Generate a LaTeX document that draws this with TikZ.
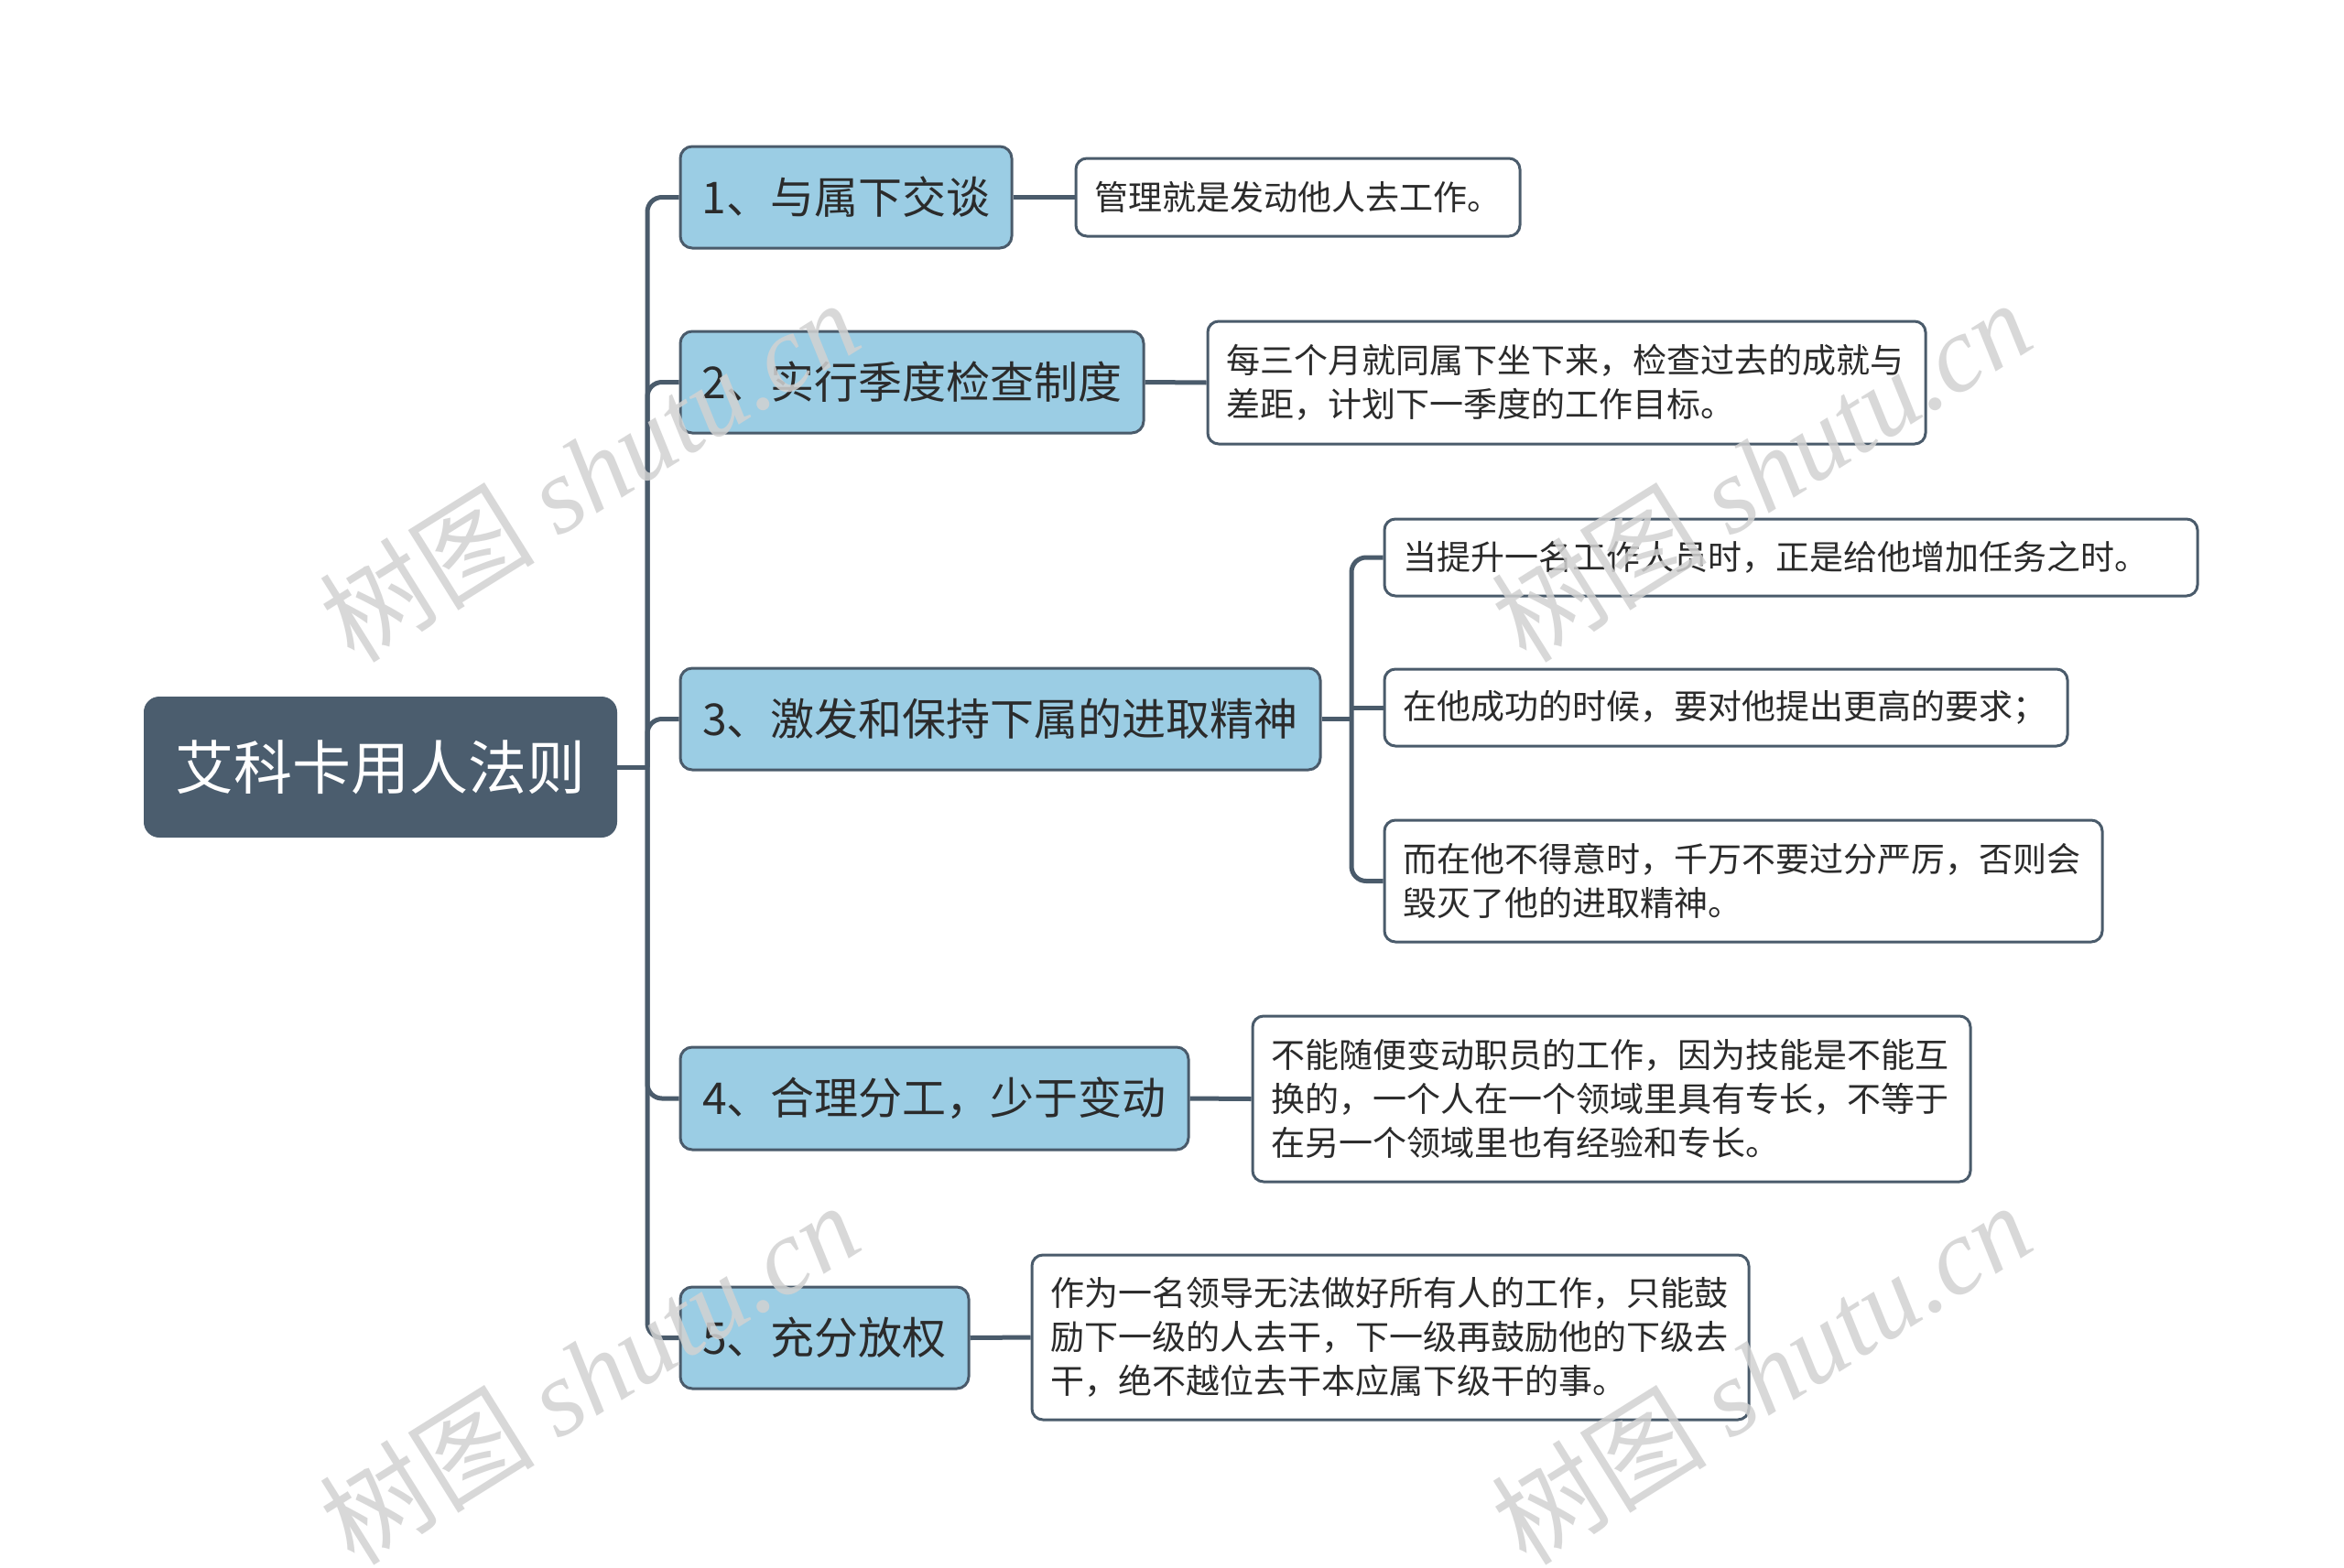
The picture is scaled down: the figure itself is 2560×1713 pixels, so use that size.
\documentclass[tikz,border=0pt]{standalone}
\usepackage{fontspec}
\setmainfont{Noto Sans CJK SC}
\newfontfamily\cjk{Noto Sans CJK SC}
\newfontfamily\wmserif{Liberation Serif}
\definecolor{slate}{HTML}{4A5B6B}
\definecolor{rootfill}{HTML}{4B5D6E}
\definecolor{branchfill}{HTML}{9BCDE4}
\definecolor{txt}{HTML}{2B2B2B}
\definecolor{wm}{HTML}{D2D2D2}
\tikzset{
  rootbox/.style={draw=rootfill, fill=rootfill, line width=2pt, rounded corners=16pt, text=white, font=\cjk\fontsize{64}{76}\selectfont, inner sep=0pt},
  branchbox/.style={draw=slate, fill=branchfill, line width=3pt, rounded corners=13pt, text=txt, font=\cjk\fontsize{48}{56}\selectfont, inner sep=0pt},
  leafbox/.style={draw=slate, fill=white, line width=3pt, rounded corners=12pt, text=txt, font=\cjk\fontsize{37}{48}\selectfont, inner xsep=20pt, inner ysep=0pt, align=left},
  conn/.style={draw=slate, line width=5pt, rounded corners=16pt},
  wmark/.style={text=wm, rotate=32, font=\fontsize{118}{130}\selectfont, opacity=0.85}
}
\begin{document}
\begin{tikzpicture}[x=1pt,y=-1pt]
\useasboundingbox[fill=white] (0,0) rectangle (2560,1713);
\coordinate (tr) at (707,838);
\coordinate (st) at (1476,785.5);
% root
\node[rootbox, minimum width=515pt, minimum height=152pt] (root) at (415.5,838) {艾科卡用人法则};
% branches
\node[branchbox, minimum width=362pt, minimum height=111pt] (b1) at (924,215.5) {1、与属下交谈};
\node[branchbox, minimum width=506pt, minimum height=111pt] (b2) at (996,417.5) {2、实行季度检查制度};
\node[branchbox, minimum width=699pt, minimum height=111pt] (b3) at (1092.5,785.5) {3、激发和保持下属的进取精神};
\node[branchbox, minimum width=555pt, minimum height=112pt] (b4) at (1020.5,1200) {4、合理分工，少于变动};
\node[branchbox, minimum width=315pt, minimum height=111pt] (b5) at (900.5,1461.5) {5、充分放权};
% leaves
\node[leafbox, text width=445pt, minimum height=85pt] (l1) at (1417.5,215.5) {管理就是发动他人去工作。};
\node[leafbox, text width=744pt, minimum height=134pt] (l2) at (1711,418) {每三个月就同属下坐下来，检查过去的成就与\\差距，计划下一季度的工作目标。};
\node[leafbox, text width=848pt, minimum height=84pt] (l3a) at (1956,609) {当提升一名工作人员时，正是给他增加任务之时。};
\node[leafbox, text width=706pt, minimum height=84pt] (l3b) at (1885,773) {在他成功的时候，要对他提出更高的要求；};
\node[leafbox, text width=744pt, minimum height=133pt] (l3c) at (1904,962.5) {而在他不得意时，千万不要过分严厉，否则会\\毁灭了他的进取精神。};
\node[leafbox, text width=744pt, minimum height=181pt] (l4) at (1760,1200.5) {不能随便变动职员的工作，因为技能是不能互\\换的，一个人在一个领域里具有专长，不等于\\在另一个领域里也有经验和专长。};
\node[leafbox, text width=743pt, minimum height=180pt] (l5) at (1518.5,1461) {作为一名领导无法做好所有人的工作，只能鼓\\励下一级的人去干，下一级再鼓励他的下级去\\干，绝不越位去干本应属下级干的事。};
% trunk connectors
\draw[conn] (root.east) -- (tr);
\draw[conn] (b1.west) -| (tr) |- (b5.west);
\draw[conn] (tr) |- (b2.west);
\draw[conn] (tr) |- (b3.west);
\draw[conn] (tr) |- (b4.west);
% branch 3 sub connectors
\draw[conn] (b3.east) -- (st);
\draw[conn] (st |- l3b.west) -- (l3b.west);
\draw[conn] (l3a.west) -| (st) |- (l3c.west);
% single connectors
\draw[conn] (b1.east) -- (l1.west);
\draw[conn] (b2.east) -- (l2.west);
\draw[conn] (b4.east) -- (l4.west);
\draw[conn] (b5.east) -- (l5.west);
% watermarks
\node[wmark] (w1) at (643,514) {树图 {\wmserif\itshape shutu.cn}};
\node[wmark] (w2) at (1923,514) {树图 {\wmserif\itshape shutu.cn}};
\node[wmark] (w3) at (643,1500) {树图 {\wmserif\itshape shutu.cn}};
\node[wmark] (w4) at (1923,1500) {树图 {\wmserif\itshape shutu.cn}};
\end{tikzpicture}
\end{document}
